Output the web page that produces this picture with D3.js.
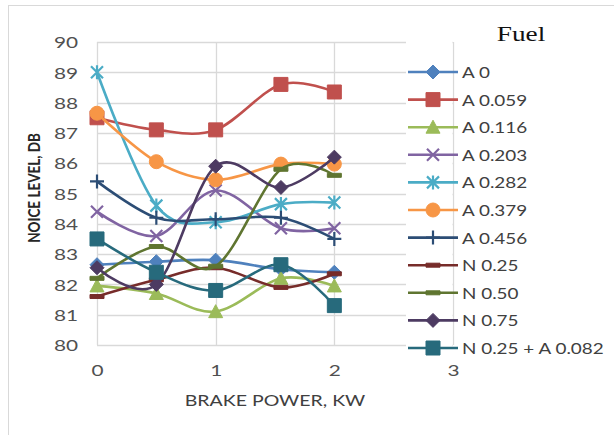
<!DOCTYPE html>
<html>
<head>
<meta charset="utf-8">
<script src="https://cdn.jsdelivr.net/npm/d3@7"></script>
<style>
  body { margin: 0; background: #fff; }
  text { font-family: Lato, "Open Sans", sans-serif; }
</style>
</head>
<body>
<div id="chart"></div>
<script>
// brake power (kW) at each test point
var power = [0, 0.5, 1, 1.55, 2];

var fuels = ["A 0", "A 0.059", "A 0.116", "A 0.203", "A 0.282", "A 0.379",
             "A 0.456", "N 0.25", "N 0.50", "N 0.75", "N 0.25 + A 0.082"];

// noise level, dB, one list per fuel
var a0     = [82.65, 82.75, 82.8, 82.5, 82.4];
var a0059  = [87.5, 87.1, 87.1, 88.6, 88.35];
var a0116  = [81.95, 81.7, 81.1, 82.2, 81.95];
var a0203  = [84.4, 83.6, 85.1, 83.85, 83.85];
var a0282  = [89.0, 84.6, 84.05, 84.65, 84.7];
var a0379  = [87.65, 86.05, 85.45, 85.97, 85.97];
var a0456  = [85.4, 84.2, 84.15, 84.2, 83.5];
var n025   = [81.6, 82.15, 82.55, 81.9, 82.35];
var n050   = [82.2, 83.25, 82.6, 85.8, 85.6];
var n075   = [82.55, 82.0, 85.9, 85.2, 86.2];
var n025a  = [83.5, 82.4, 81.8, 82.65, 81.3];

var yTicks = [80, 81, 82, 83, 84, 85, 86, 87, 88, 89, 90];
var xTicks = [0, 1, 2, 3];

var seriesValues = [a0, a0059, a0116, a0203, a0282, a0379, a0456, n025, n050, n075, n025a];
var colors = ["#4F81BD", "#C0504D", "#9BBB59", "#8064A2", "#4BACC6", "#F79646",
              "#2C4D75", "#772C2A", "#5F7530", "#4D3B62", "#276A7C"];
var markers = ["diamond", "square", "triangle", "x", "star", "circle",
               "plus", "dash", "dash", "diamond", "square"];

var width = 614, height = 435;
var sx = 1.3; // the picture is stretched sideways

var svg = d3.select("#chart").append("svg")
    .attr("width", width)
    .attr("height", height);

// outer frame
svg.append("rect")
    .attr("x", 8.5).attr("y", 5.5)
    .attr("width", 700).attr("height", 600)
    .attr("fill", "none").attr("stroke", "#D9D9D9");

var x = d3.scaleLinear().domain([0, 3]).range([97, 453]);
var y = d3.scaleLinear().domain([80, 90]).range([345, 42]);

// gridlines
svg.append("g").selectAll("line.h")
    .data(yTicks).enter().append("line")
    .attr("x1", x(0)).attr("x2", x(3))
    .attr("y1", function (d) { return Math.round(y(d)) + 0.5; })
    .attr("y2", function (d) { return Math.round(y(d)) + 0.5; })
    .attr("stroke", "#D9D9D9").attr("stroke-width", 1.3);
svg.append("g").selectAll("line.v")
    .data(xTicks).enter().append("line")
    .attr("x1", function (d) { return Math.round(x(d)) + 0.5; })
    .attr("x2", function (d) { return Math.round(x(d)) + 0.5; })
    .attr("y1", y(90)).attr("y2", y(80))
    .attr("stroke", "#D9D9D9").attr("stroke-width", 1.3);

// axes (labels only)
var yAxis = svg.append("g")
    .attr("transform", "translate(" + x(0) + ",0)")
    .call(d3.axisLeft(y).tickValues(yTicks).tickSize(0).tickPadding(0));
var xAxis = svg.append("g")
    .attr("transform", "translate(0," + y(80) + ")")
    .call(d3.axisBottom(x).tickValues(xTicks).tickFormat(d3.format("d")).tickSize(0).tickPadding(0));
[yAxis, xAxis].forEach(function (ax) {
    ax.select(".domain").remove();
    ax.selectAll("text")
        .style("font-size", "16px")
        .style("font-family", "Lato, sans-serif")
        .attr("fill", "#505050");
});
yAxis.selectAll("text").attr("x", -19 / sx).attr("dy", "0.36em")
    .attr("transform", "scale(" + sx + ",1)");
xAxis.selectAll("text").attr("y", 0).attr("dy", 31)
    .attr("transform", "scale(" + sx + ",1)");

// axis titles
svg.append("text")
    .attr("transform", "translate(" + ((x(0) + x(3)) / 2) + ",406) scale(" + 1.22 + ",1)")
    .attr("text-anchor", "middle")
    .style("font-size", "16px")
    .attr("fill", "#404040")
    .text("BRAKE POWER, KW");
svg.append("text")
    .attr("transform", "translate(40,188) scale(" + sx + ",1) rotate(-90)")
    .attr("text-anchor", "middle")
    .style("font-size", "13.5px")
    .style("font-weight", "bold")
    .attr("fill", "#262626")
    .text("NOICE LEVEL, DB");

function markerPath(type) {
    var s = 7;
    switch (type) {
        case "diamond": return "M0,-7L7,0L0,7L-7,0Z";
        case "square": return "M-7,-7H7V7H-7Z";
        case "triangle": return "M0,-7L7,6L-7,6Z";
        case "x": return "M-6,-6L6,6M-6,6L6,-6";
        case "star": return "M-6,-6L6,6M-6,6L6,-6M0,-7V7";
        case "plus": return "M-7,0H7M0,-7V7";
        case "dash": return "M-7,-2H7V2H-7Z";
        case "circle": return d3.symbol().type(d3.symbolCircle).size(Math.PI * s * s)();
    }
}
function isOpen(type) { return type == "x" || type == "star" || type == "plus"; }

var line = d3.line()
    .x(function (d) { return x(d.p); })
    .y(function (d) { return y(d.v); })
    .curve(d3.curveCatmullRom.alpha(0));

seriesValues.forEach(function (vals, i) {
    var pts = vals.map(function (v, j) { return { p: power[j], v: v }; });
    var g = svg.append("g");
    g.append("path")
        .attr("d", line(pts))
        .attr("fill", "none")
        .attr("stroke", colors[i])
        .attr("stroke-width", 2.6);
    g.selectAll("path.m").data(pts).enter().append("path")
        .attr("transform", function (d) { return "translate(" + x(d.p) + "," + y(d.v) + ")"; })
        .attr("d", markerPath(markers[i]))
        .attr("fill", isOpen(markers[i]) ? "none" : colors[i])
        .attr("stroke", colors[i])
        .attr("stroke-width", isOpen(markers[i]) ? 2.2 : 1);
});

// legend sits over the right end of the plot
svg.append("rect")
    .attr("x", 406).attr("y", 40)
    .attr("width", 46.5).attr("height", 320)
    .attr("fill", "#fff");

svg.append("text")
    .attr("transform", "translate(521,41) scale(" + sx + ",1)")
    .attr("text-anchor", "middle")
    .style("font-family", "'Liberation Serif', 'Times New Roman', serif")
    .style("font-size", "21px")
    .attr("fill", "#111")
    .text("Fuel");

var legend = svg.append("g").selectAll("g")
    .data(fuels).enter().append("g")
    .attr("transform", function (d, i) { return "translate(0," + (72 + i * 27.6) + ")"; });
legend.append("line")
    .attr("x1", 408).attr("x2", 458)
    .attr("stroke", function (d, i) { return colors[i]; })
    .attr("stroke-width", 2.6);
legend.append("path")
    .attr("transform", "translate(433,0)")
    .attr("d", function (d, i) { return markerPath(markers[i]); })
    .attr("fill", function (d, i) { return isOpen(markers[i]) ? "none" : colors[i]; })
    .attr("stroke", function (d, i) { return colors[i]; })
    .attr("stroke-width", function (d, i) { return isOpen(markers[i]) ? 2.2 : 1; });
legend.append("text")
    .attr("transform", "translate(462,6) scale(1.18,1)")
    .style("font-size", "16px")
    .attr("fill", "#404040")
    .text(function (d) { return d; });
</script>
</body>
</html>
